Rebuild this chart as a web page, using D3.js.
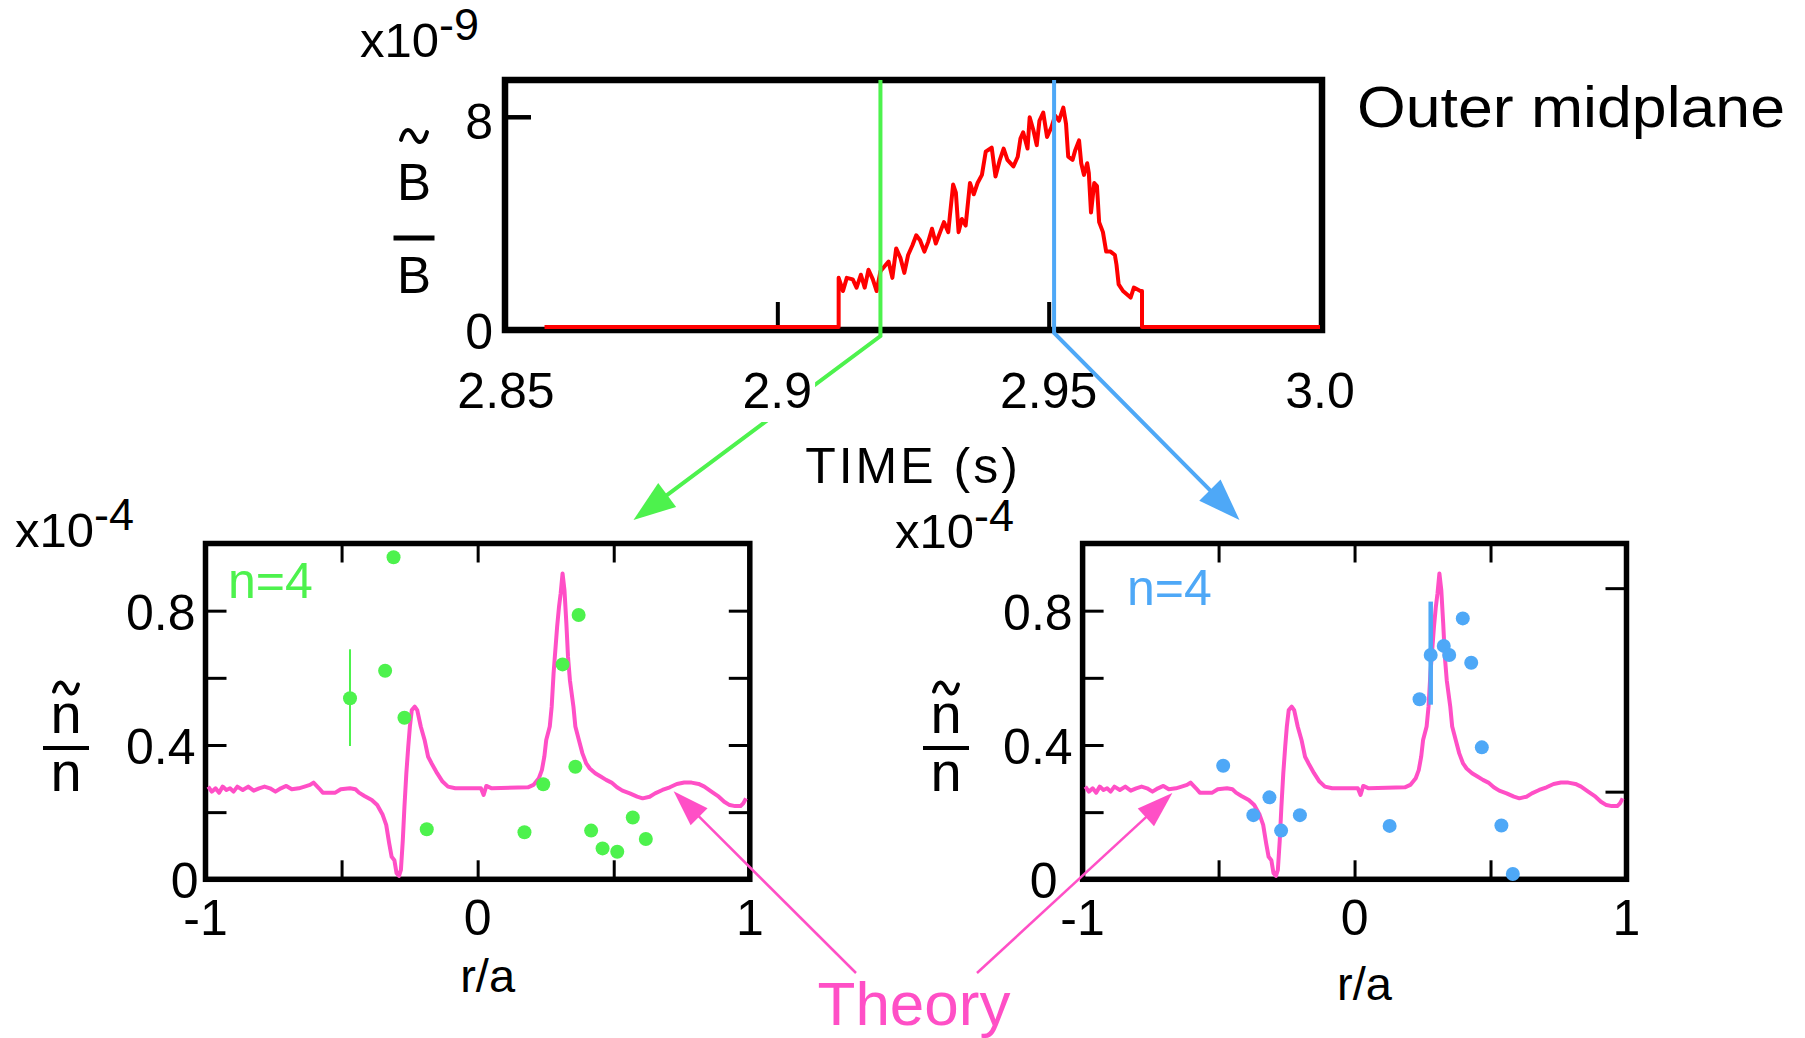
<!DOCTYPE html>
<html>
<head>
<meta charset="utf-8">
<script src="https://cdn.jsdelivr.net/npm/d3@7"></script>
<style>
  html, body { margin: 0; padding: 0; background: #fff; }
  svg { display: block; font-family: "Liberation Sans", Arial, Helvetica, sans-serif; }
</style>
</head>
<body>
<svg id="fig" width="1805" height="1038"></svg>
<script>
// Magnetic fluctuation amplitude B~/B (x1e-9) vs time [s]
const bTrace = [
  [2.8571, 0], [2.9113, 0], [2.9113, 1.87], [2.9121, 1.37], [2.9128, 1.87], [2.9139, 1.81],
  [2.9146, 1.50], [2.9154, 1.99], [2.9161, 1.50], [2.9168, 2.18], [2.9176, 1.81], [2.9183, 1.37],
  [2.9190, 2.12], [2.9205, 2.49], [2.9212, 1.87], [2.9219, 2.99], [2.9227, 2.62], [2.9234, 2.06],
  [2.9241, 2.74], [2.9249, 3.11], [2.9256, 3.49], [2.9263, 3.30], [2.9271, 2.87], [2.9278, 3.24],
  [2.9285, 3.74], [2.9292, 3.18], [2.9300, 3.61], [2.9307, 3.99], [2.9315, 3.61], [2.9318, 4.24],
  [2.9324, 5.42], [2.9329, 5.11], [2.9334, 3.61], [2.9340, 4.11], [2.9347, 3.86], [2.9355, 5.48],
  [2.9362, 5.05], [2.9369, 5.48], [2.9377, 5.79], [2.9384, 6.67], [2.9395, 6.83], [2.9402, 5.73],
  [2.9410, 6.36], [2.9417, 6.79], [2.9424, 6.36], [2.9435, 6.11], [2.9443, 6.48], [2.9448, 7.17],
  [2.9453, 7.41], [2.9461, 6.79], [2.9465, 7.98], [2.9472, 7.48], [2.9478, 6.92], [2.9483, 7.85],
  [2.9490, 8.16], [2.9497, 7.23], [2.9505, 7.60], [2.9512, 8.04], [2.9519, 7.85], [2.9527, 8.35],
  [2.9532, 7.73], [2.9536, 6.48], [2.9544, 6.36], [2.9549, 6.73], [2.9556, 7.10], [2.9560, 6.23],
  [2.9565, 5.79], [2.9571, 6.23], [2.9574, 5.86], [2.9578, 4.36], [2.9584, 5.48], [2.9589, 5.36],
  [2.9593, 3.99], [2.9600, 3.61], [2.9606, 2.87], [2.9614, 2.87], [2.9622, 2.74], [2.9625, 2.37],
  [2.9629, 1.62], [2.9637, 1.37], [2.9651, 1.12], [2.9657, 1.50], [2.9669, 1.37], [2.9672, 1.37],
  [2.9672, 0], [3.0, 0]
];

// Theory profile of density fluctuation n~/n (x1e-4) vs r/a
const theory = [
  [-0.990, 0.276], [-0.977, 0.261], [-0.963, 0.271], [-0.950, 0.258], [-0.937, 0.276], [-0.923, 0.266],
  [-0.910, 0.271], [-0.897, 0.261], [-0.883, 0.276], [-0.863, 0.266], [-0.843, 0.276], [-0.823, 0.264],
  [-0.803, 0.271], [-0.783, 0.276], [-0.763, 0.271], [-0.743, 0.261], [-0.723, 0.271], [-0.703, 0.278],
  [-0.683, 0.268], [-0.657, 0.271], [-0.636, 0.276], [-0.616, 0.281], [-0.603, 0.288], [-0.583, 0.271],
  [-0.569, 0.258], [-0.523, 0.258], [-0.503, 0.268], [-0.469, 0.271], [-0.449, 0.268], [-0.436, 0.258],
  [-0.416, 0.248], [-0.389, 0.236], [-0.369, 0.221], [-0.349, 0.192], [-0.336, 0.162], [-0.325, 0.107],
  [-0.316, 0.067], [-0.306, 0.057], [-0.298, 0.018], [-0.289, 0.010], [-0.282, 0.028], [-0.275, 0.117],
  [-0.269, 0.216], [-0.262, 0.316], [-0.255, 0.395], [-0.249, 0.455], [-0.242, 0.504], [-0.231, 0.514],
  [-0.222, 0.504], [-0.209, 0.455], [-0.195, 0.415], [-0.182, 0.365], [-0.169, 0.345], [-0.149, 0.316],
  [-0.129, 0.291], [-0.109, 0.276], [-0.082, 0.271], [0.012, 0.271], [0.022, 0.251], [0.032, 0.278],
  [0.052, 0.271], [0.185, 0.274], [0.205, 0.281], [0.225, 0.301], [0.236, 0.325], [0.245, 0.365],
  [0.252, 0.415], [0.265, 0.455], [0.272, 0.514], [0.279, 0.613], [0.292, 0.752], [0.299, 0.812],
  [0.305, 0.851], [0.312, 0.911], [0.319, 0.861], [0.326, 0.762], [0.332, 0.663], [0.339, 0.593],
  [0.352, 0.514], [0.359, 0.455], [0.372, 0.415], [0.385, 0.375], [0.399, 0.345], [0.412, 0.330],
  [0.432, 0.316], [0.452, 0.306], [0.472, 0.296], [0.492, 0.288], [0.512, 0.274], [0.532, 0.264],
  [0.559, 0.256], [0.586, 0.246], [0.606, 0.241], [0.632, 0.246], [0.652, 0.256], [0.679, 0.266],
  [0.706, 0.274], [0.732, 0.284], [0.759, 0.288], [0.786, 0.288], [0.812, 0.284], [0.833, 0.276],
  [0.859, 0.261], [0.886, 0.246], [0.906, 0.231], [0.926, 0.221], [0.946, 0.218], [0.966, 0.218],
  [0.976, 0.226], [0.986, 0.241]
];

// Measured n=4 profiles at the two snapshot times: [r/a, n~/n]
const ptsEarly = [
  [-0.309, 0.959], [-0.469, 0.539], [-0.340, 0.621], [-0.269, 0.481], [-0.187, 0.149],
  [0.172, 0.140], [0.241, 0.283], [0.312, 0.640], [0.371, 0.787], [0.359, 0.335],
  [0.417, 0.145], [0.459, 0.092], [0.513, 0.082], [0.570, 0.184], [0.618, 0.120]
];
const ptsLate = [
  [-0.483, 0.338], [-0.372, 0.191], [-0.313, 0.244], [-0.270, 0.145], [-0.201, 0.191],
  [0.129, 0.159], [0.239, 0.536], [0.280, 0.668], [0.328, 0.695], [0.348, 0.668],
  [0.398, 0.777], [0.429, 0.645], [0.468, 0.393], [0.540, 0.160], [0.582, 0.016]
];
// error bars: [r/a, low, high]
const errEarly = [-0.469, 0.397, 0.685];
const errLate = [0.280, 0.520, 0.827];

const snapTimes = [2.919, 2.951];

const timeTicks = [2.85, 2.9, 2.95, 3.0];
const timeTickLabels = ["2.85", "2.9", "2.95", "3.0"];
const timeMarks = [2.9, 2.95];
const ampTicks = [0, 8];
const ampMarks = [8];
const rTicks = [-1, 0, 1];
const rMarks = [-0.5, 0, 0.5];
const nTicks = [0, 0.4, 0.8];
const nMarks = [0.2, 0.4, 0.6, 0.8];
const nMarksRightLate = [0.261, 0.867];

const GREEN = "#4df24d", BLUE = "#4ea8f7", PINK = "#ff4fc6", RED = "#ff0000";
const FS = 50;

const svg = d3.select("#fig");

// ---------------- upper panel ----------------
const up = { x0: 505, x1: 1322, y0: 80, y1: 330 };
const xT = d3.scaleLinear().domain([2.85, 3.0]).range([506, 1320]);
const yT = d3.scaleLinear().domain([0, 9.4]).range([327, 80]);
const gT = svg.append("g");

gT.append("rect")
  .attr("x", up.x0).attr("y", up.y0)
  .attr("width", up.x1 - up.x0).attr("height", up.y1 - up.y0)
  .attr("fill", "none").attr("stroke", "#000").attr("stroke-width", 6.5);

const styleTicks = (w) => (g) => {
  g.select(".domain").remove();
  g.selectAll(".tick line").attr("stroke", "#000").attr("stroke-width", w);
  g.selectAll(".tick text").remove();
};

gT.append("g").attr("transform", `translate(0,${up.y1})`)
  .call(d3.axisTop(xT).tickValues(timeMarks).tickSize(28).tickFormat(""))
  .call(styleTicks(4));
gT.append("g").attr("transform", `translate(${up.x0},0)`)
  .call(d3.axisRight(yT).tickValues(ampMarks).tickSize(26).tickFormat(""))
  .call(styleTicks(4.5));

gT.append("path")
  .datum(bTrace)
  .attr("fill", "none").attr("stroke", RED).attr("stroke-width", 4)
  .attr("stroke-linejoin", "round")
  .attr("d", d3.line().x(d => xT(d[0])).y(d => yT(d[1])));

// arrowhead helper: filled triangle pointing from (x0,y0) toward (x1,y1)
function arrowHead(g, x0, y0, x1, y1, len, wid, color) {
  const a = Math.atan2(y1 - y0, x1 - x0);
  const bx = x1 - len * Math.cos(a), by = y1 - len * Math.sin(a);
  const px = -Math.sin(a) * wid / 2, py = Math.cos(a) * wid / 2;
  g.append("path")
    .attr("d", `M${x1},${y1}L${bx + px},${by + py}L${bx - px},${by - py}Z`)
    .attr("fill", color);
}

// snapshot markers and arrows to the lower panels
const snapArrows = [
  { t: snapTimes[0], color: GREEN, bend: up.y1 + 6, tip: [633.5, 520] },
  { t: snapTimes[1], color: BLUE, bend: up.y1 + 3, tip: [1239.5, 520] }
];
function drawSnap(s) {
  const x = xT(s.t);
  const ex = s.tip[0], ey = s.tip[1];
  const a = Math.atan2(ey - s.bend, ex - x);
  gT.append("path")
    .attr("d", `M${x},${up.y0}L${x},${s.bend}L${ex - 30 * Math.cos(a)},${ey - 30 * Math.sin(a)}`)
    .attr("fill", "none").attr("stroke", s.color).attr("stroke-width", 4);
  arrowHead(gT, x, s.bend, ex, ey, 42, 30, s.color);
}
drawSnap(snapArrows[0]);

// time tick labels on white backing
const tl = gT.selectAll("g.tl").data(timeTicks).join("g").attr("class", "tl");
tl.append("text")
  .attr("x", d => xT(d)).attr("y", 408)
  .attr("text-anchor", "middle").attr("font-size", FS)
  .text((d, i) => timeTickLabels[i]);
tl.each(function () {
  const t = d3.select(this).select("text");
  const b = t.node().getBBox();
  d3.select(this).insert("rect", "text")
    .attr("x", b.x - 3).attr("y", b.y - 3)
    .attr("width", b.width + 6).attr("height", b.height + 6)
    .attr("fill", "#fff");
});
drawSnap(snapArrows[1]);

gT.selectAll("text.ay").data(ampTicks).join("text")
  .attr("class", "ay")
  .attr("x", up.x0 - 12).attr("y", d => yT(d) + 22)
  .attr("text-anchor", "end").attr("font-size", FS)
  .text(d => d);

svg.append("text").attr("x", 913).attr("y", 483)
  .attr("text-anchor", "middle").attr("font-size", FS).attr("letter-spacing", 3)
  .text("TIME (s)");

svg.append("text").attr("x", 1357).attr("y", 127)
  .attr("font-size", 58).attr("textLength", 428).attr("lengthAdjust", "spacingAndGlyphs")
  .text("Outer midplane");

// scale factor label: x10 with superscript exponent
function sciLabel(x, y, exp) {
  const t = svg.append("text").attr("x", x).attr("y", y).attr("font-size", 49);
  t.append("tspan").text("x10");
  t.append("tspan").attr("dy", -17).attr("font-size", 45).text(exp);
}
sciLabel(360, 57, "-9");

// tilde mark drawn as a path
function tilde(cx, cy, w, h) {
  const p = d3.path();
  p.moveTo(cx - w / 2, cy + h * 0.35);
  p.bezierCurveTo(cx - w / 3, cy - h * 1.0, cx - w / 8, cy - h * 0.6, cx, cy);
  p.bezierCurveTo(cx + w / 8, cy + h * 0.6, cx + w / 3, cy + h * 1.0, cx + w / 2, cy - h * 0.35);
  svg.append("path").attr("d", p.toString())
    .attr("fill", "none").attr("stroke", "#000").attr("stroke-width", 4)
    .attr("stroke-linecap", "round");
}

// fraction-style axis title  X~ / X
function fracLabel(o) {
  tilde(o.cx, o.tildeY, o.tildeW, o.tildeH);
  svg.append("text").attr("x", o.cx).attr("y", o.topY)
    .attr("text-anchor", "middle").attr("font-size", o.fs).text(o.ch);
  svg.append("line")
    .attr("x1", o.cx - o.barW / 2).attr("x2", o.cx + o.barW / 2)
    .attr("y1", o.barY).attr("y2", o.barY)
    .attr("stroke", "#000").attr("stroke-width", o.barT);
  svg.append("text").attr("x", o.cx).attr("y", o.botY)
    .attr("text-anchor", "middle").attr("font-size", o.fs).text(o.ch);
}
fracLabel({ cx: 414, ch: "B", fs: 51, tildeY: 136, tildeW: 26, tildeH: 11,
            topY: 200, barY: 238, barW: 41, barT: 5, botY: 293 });

// ---------------- lower panels ----------------
const panels = [
  { x0: 205.5, x1: 749.8, pts: ptsEarly, err: errEarly, errW: 2, color: GREEN,
    rightMarks: nMarks, sci: [15, 547], frac: 66, nLabel: [228, 598], rLabelY: 992,
    zeroShift: 3, arrowTip: [0.72, 0.262], arrowFrom: [856, 973] },
  { x0: 1082.6, x1: 1626.5, pts: ptsLate, err: errLate, errW: 4.5, color: BLUE,
    rightMarks: nMarksRightLate, sci: [895, 548], frac: 946, nLabel: [1127, 605], rLabelY: 1000,
    zeroShift: -15, arrowTip: [-0.67, 0.257], arrowFrom: [977, 973] }
];
const py0 = 543.5, py1 = 879.3;
const yN = d3.scaleLinear().domain([0, 1]).range([py1, py0]);

panels.forEach(p => {
  const x = d3.scaleLinear().domain([-1, 1]).range([p.x0, p.x1]);
  const g = svg.append("g");

  g.append("rect")
    .attr("x", p.x0).attr("y", py0).attr("width", p.x1 - p.x0).attr("height", py1 - py0)
    .attr("fill", "none").attr("stroke", "#000").attr("stroke-width", 5.5);

  g.append("g").attr("transform", `translate(0,${py1})`)
    .call(d3.axisTop(x).tickValues(rMarks).tickSize(19).tickFormat("")).call(styleTicks(3));
  g.append("g").attr("transform", `translate(0,${py0})`)
    .call(d3.axisBottom(x).tickValues(rMarks).tickSize(19).tickFormat("")).call(styleTicks(3));
  g.append("g").attr("transform", `translate(${p.x0},0)`)
    .call(d3.axisRight(yN).tickValues(nMarks).tickSize(21).tickFormat("")).call(styleTicks(3));
  g.append("g").attr("transform", `translate(${p.x1},0)`)
    .call(d3.axisLeft(yN).tickValues(p.rightMarks).tickSize(21).tickFormat("")).call(styleTicks(3));

  g.append("path").datum(theory)
    .attr("fill", "none").attr("stroke", PINK).attr("stroke-width", 4)
    .attr("stroke-linejoin", "round")
    .attr("d", d3.line().x(d => x(d[0])).y(d => yN(d[1])));

  g.append("line")
    .attr("x1", x(p.err[0])).attr("x2", x(p.err[0]))
    .attr("y1", yN(p.err[1])).attr("y2", yN(p.err[2]))
    .attr("stroke", p.color).attr("stroke-width", p.errW);

  g.selectAll("circle").data(p.pts).join("circle")
    .attr("cx", d => x(d[0])).attr("cy", d => yN(d[1])).attr("r", 7)
    .attr("fill", p.color);

  g.selectAll("text.yl").data(nTicks).join("text").attr("class", "yl")
    .attr("x", d => p.x0 - 10 + (d === 0 ? p.zeroShift : 0)).attr("y", d => yN(d) + 19)
    .attr("text-anchor", "end").attr("font-size", FS)
    .text(d => d === 0 ? "0" : d.toFixed(1));

  g.selectAll("text.xl").data(rTicks).join("text").attr("class", "xl")
    .attr("x", d => x(d)).attr("y", 935)
    .attr("text-anchor", "middle").attr("font-size", FS)
    .text(d => d);

  g.append("text").attr("x", x(0) + 10).attr("y", p.rLabelY)
    .attr("text-anchor", "middle").attr("font-size", 47).text("r/a");

  g.append("text").attr("x", p.nLabel[0]).attr("y", p.nLabel[1])
    .attr("font-size", FS).attr("fill", p.color).text("n=4");

  sciLabel(p.sci[0], p.sci[1], "-4");

  fracLabel({ cx: p.frac, ch: "n", fs: 56, tildeY: 688, tildeW: 24, tildeH: 10,
              topY: 733, barY: 748, barW: 46, barT: 4, botY: 791 });

  // arrow from the "Theory" caption to the curve
  const tx = x(p.arrowTip[0]), ty = yN(p.arrowTip[1]);
  const fx = p.arrowFrom[0], fy = p.arrowFrom[1];
  const a = Math.atan2(ty - fy, tx - fx);
  svg.append("line")
    .attr("x1", fx).attr("y1", fy)
    .attr("x2", tx - 25 * Math.cos(a)).attr("y2", ty - 25 * Math.sin(a))
    .attr("stroke", PINK).attr("stroke-width", 2.5);
  arrowHead(svg, fx, fy, tx, ty, 36, 24, PINK);
});

svg.append("text").attr("x", 914).attr("y", 1025)
  .attr("text-anchor", "middle").attr("font-size", 62).attr("fill", PINK)
  .text("Theory");
</script>
</body>
</html>
